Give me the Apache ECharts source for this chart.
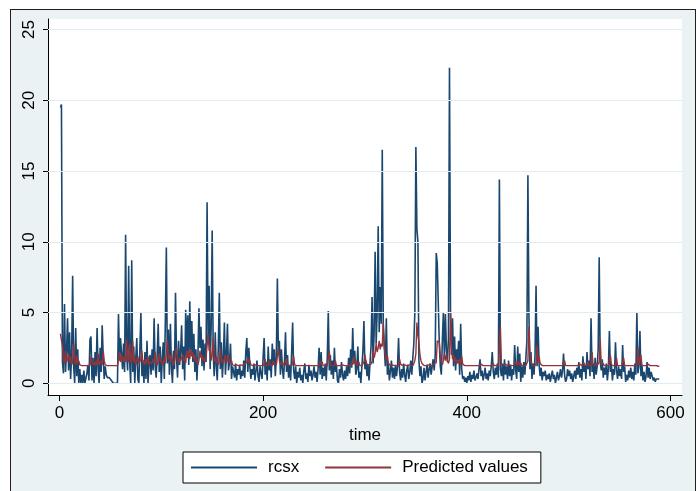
<!DOCTYPE html>
<html>
<head>
<meta charset="utf-8">
<script src="https://cdn.jsdelivr.net/npm/echarts@6/dist/echarts.min.js"></script>
<style>
html, body { margin: 0; padding: 0; background: #fff; }
#frame { position: absolute; left: 10px; top: 9px; width: 684px; height: 500px; background: #eaf2f3; border: 1px solid #1f1f1f; }
#chart { position: absolute; left: 0; top: 0; width: 696px; height: 491px; }
</style>
</head>
<body>
<div id="frame"></div>
<div id="chart"></div>
<script>
// rcsx, t = 1..589
const rcsx = [
  19.5,19.7,1.5,0.7,5.6,0.8,2.2,4.6,0.9,3.6,
  0.3,2.0,7.6,1.2,0.0,3.9,0.5,2.4,0.0,1.0,
  0.0,0.6,0.0,0.9,0.0,0.0,0.7,1.3,0.2,3.1,
  3.3,0.2,1.8,0.0,2.2,0.5,3.9,1.0,0.0,2.5,
  0.8,4.1,1.9,0.3,1.2,0.6,0.4,0.3,0.4,0.3,
  0.2,0.3,0.0,0.0,0.0,0.0,0.0,4.9,1.6,3.2,
  3.3,1.0,2.8,0.8,10.5,2.0,0.9,8.3,1.5,0.0,
  8.7,0.8,2.6,0.0,1.8,3.2,0.3,0.0,2.4,5.0,
  0.5,1.6,0.0,2.2,0.3,3.0,0.0,1.4,2.0,0.6,
  2.4,0.9,4.6,1.2,0.4,2.0,4.2,0.8,2.6,0.0,
  1.7,2.9,0.3,4.3,9.6,1.4,3.8,0.6,4.2,1.1,
  0.0,2.3,1.0,6.4,1.8,0.4,3.0,1.3,2.2,4.1,
  1.0,2.6,0.2,5.2,2.0,4.8,1.3,5.8,2.2,4.4,
  1.5,3.5,0.8,2.4,0.2,1.9,5.3,2.5,4.0,1.2,
  3.1,0.9,2.8,1.5,12.8,3.2,6.9,1.0,4.0,10.8,
  2.2,0.5,3.6,1.2,0.2,2.5,6.4,1.0,2.9,0.4,
  1.8,4.3,0.6,2.0,4.2,0.9,1.5,2.8,0.3,1.2,
  0.8,0.4,1.4,0.2,1.0,0.6,1.3,0.3,0.9,0.5,
  1.6,0.4,2.2,3.2,0.8,2.5,1.2,0.3,1.0,0.6,
  1.4,0.2,0.9,1.6,0.5,0.1,1.2,0.7,0.3,1.8,
  3.2,0.6,1.5,0.2,2.6,0.9,1.7,0.4,2.8,1.3,
  2.4,0.5,1.8,7.4,2.2,3.0,0.6,2.4,1.0,0.3,
  1.5,3.6,0.8,2.0,0.4,1.3,0.2,2.1,4.3,0.9,
  0.3,1.2,0.0,0.8,0.4,1.1,0.2,0.6,0.0,0.9,
  1.4,0.3,0.7,0.1,1.3,0.5,0.9,0.2,0.6,1.2,
  0.4,0.8,0.1,1.0,2.5,0.6,2.2,0.3,1.1,0.5,
  1.4,0.2,1.8,5.1,0.9,2.0,0.6,1.6,0.3,2.5,
  0.8,1.3,0.2,0.0,1.0,0.4,1.5,0.6,0.2,0.9,
  0.3,1.2,0.5,1.8,0.7,2.4,1.1,3.9,1.4,2.3,
  0.6,1.0,2.6,0.4,0.8,0.0,1.2,2.3,4.4,1.0,
  1.6,0.5,1.3,0.2,1.5,2.6,6.1,1.4,3.5,9.3,
  2.8,5.0,11.1,3.6,6.8,4.2,16.5,4.0,2.6,1.2,
  4.6,0.6,1.4,0.2,0.9,1.6,0.4,1.1,0.3,1.3,
  0.5,1.2,3.2,0.8,0.2,1.0,0.4,1.4,0.6,0.1,
  0.9,1.3,0.3,0.8,1.6,0.6,1.8,2.8,5.0,16.7,
  10.9,10.0,1.6,0.5,1.2,0.0,0.3,1.1,0.2,0.8,
  1.3,0.4,1.0,1.4,0.6,1.2,1.7,0.9,2.0,9.2,
  8.5,8.4,2.8,1.2,0.6,3.0,5.0,1.8,4.9,2.4,
  1.5,3.2,22.3,5.0,2.0,4.6,1.2,3.3,0.9,2.4,
  1.6,3.0,0.6,4.2,1.0,0.3,0.5,0.1,0.4,0.0,
  0.5,0.2,0.8,0.1,0.6,0.3,0.9,0.2,0.4,0.7,
  0.3,1.0,1.7,0.5,0.9,0.2,0.6,1.1,0.3,0.7,
  0.2,0.9,0.5,1.2,2.2,0.8,0.3,1.1,0.6,1.4,
  0.4,14.4,1.0,0.5,1.4,0.2,1.7,0.6,1.2,0.3,
  1.6,0.5,1.3,0.2,1.0,0.6,2.7,0.9,0.3,2.6,
  0.8,2.1,0.1,1.2,0.4,1.5,0.6,1.8,3.0,14.7,
  4.8,1.0,2.2,0.3,1.4,0.6,2.0,6.9,1.2,4.0,
  1.3,0.5,1.1,0.2,0.8,0.5,0.9,0.2,0.6,0.3,
  0.7,0.1,0.5,0.9,0.3,0.6,0.0,0.4,0.8,0.2,
  0.5,1.0,0.4,0.9,2.1,0.6,0.1,0.3,1.0,0.5,
  0.9,0.3,0.7,0.1,0.5,0.9,0.3,1.1,0.6,1.5,
  0.4,1.0,0.2,1.9,0.8,1.3,0.3,2.2,1.0,1.6,
  0.5,4.6,0.8,1.4,0.3,1.8,0.6,1.2,2.4,8.9,
  1.5,0.9,1.7,0.4,1.1,0.6,1.4,0.2,1.0,3.7,
  0.8,1.3,0.2,1.0,0.6,2.9,0.9,0.3,1.2,0.5,
  1.0,0.3,2.7,0.8,1.2,0.1,0.6,0.2,0.9,0.4,
  1.1,0.3,0.8,0.2,1.4,0.6,5.0,0.7,1.2,3.7,
  0.5,1.3,0.2,0.8,0.1,0.5,1.5,0.4,1.1,0.3,
  0.8,0.5,0.2,0.4,0.1,0.3,0.2,0.3,0.3
];

// Predicted values, t = 1..589
const predicted = [
  3.5,3.6,2.6,1.6,1.4,2.3,1.5,1.7,2.1,1.5,
  1.9,1.3,1.5,2.8,1.6,1.3,2.0,1.4,1.6,1.3,
  1.3,1.25,1.25,1.25,1.25,1.25,1.25,1.25,1.3,1.25,
  1.9,2.0,1.3,1.5,1.25,1.6,1.3,2.1,1.3,1.25,
  1.6,1.3,2.3,1.6,1.3,1.3,1.25,1.25,1.25,1.25,
  1.25,1.25,1.25,1.25,1.25,1.25,1.25,1.25,2.2,1.5,
  2.0,2.0,1.5,1.9,1.5,3.1,1.8,1.5,2.8,1.6,
  1.4,3.0,1.5,1.8,1.3,1.6,1.9,1.4,1.3,1.7,
  2.3,1.4,1.6,1.3,1.7,1.4,1.9,1.3,1.5,1.6,
  1.4,1.7,1.4,2.2,1.5,1.3,1.6,2.1,1.5,1.7,
  1.3,1.5,1.8,1.4,2.1,3.1,1.7,2.0,1.5,2.1,
  1.5,1.3,1.6,1.5,2.5,1.7,1.4,1.8,1.6,1.7,
  2.0,1.6,1.8,1.4,2.3,1.8,2.3,1.7,2.4,1.9,
  2.2,1.7,2.0,1.5,1.7,1.3,1.6,2.3,1.8,2.0,
  1.6,1.8,1.5,1.8,1.7,3.5,2.3,2.6,1.6,2.0,
  3.2,1.8,1.5,1.9,1.5,1.3,1.6,2.4,1.5,1.7,
  1.4,1.5,2.0,1.4,1.5,2.0,1.4,1.4,1.6,1.3,
  1.3,1.25,1.25,1.3,1.25,1.25,1.25,1.3,1.25,1.25,
  1.25,1.35,1.25,1.5,1.8,1.4,1.6,1.3,1.25,1.25,
  1.25,1.3,1.25,1.25,1.35,1.25,1.25,1.25,1.25,1.25,
  1.4,1.7,1.3,1.4,1.25,1.6,1.3,1.4,1.25,1.6,
  1.4,1.5,1.3,1.4,2.5,1.6,1.7,1.3,1.5,1.3,
  1.25,1.3,1.8,1.3,1.4,1.25,1.3,1.25,1.4,1.9,
  1.3,1.25,1.25,1.25,1.25,1.25,1.25,1.25,1.25,1.25,
  1.25,1.3,1.25,1.25,1.25,1.3,1.25,1.25,1.25,1.25,
  1.25,1.25,1.25,1.25,1.25,1.6,1.3,1.5,1.25,1.25,
  1.25,1.3,1.25,1.35,2.3,1.3,1.4,1.25,1.3,1.25,
  1.6,1.25,1.3,1.25,1.25,1.25,1.25,1.3,1.25,1.25,
  1.25,1.25,1.25,1.25,1.35,1.25,1.5,1.3,1.9,1.4,
  1.6,1.25,1.25,1.5,1.25,1.25,1.25,1.25,1.5,2.0,
  1.5,1.35,1.3,1.3,1.25,1.35,1.6,2.3,1.8,2.1,
  2.8,2.2,2.5,3.0,2.4,2.8,2.6,4.3,2.5,2.0,
  1.6,2.0,1.4,1.35,1.25,1.25,1.3,1.25,1.25,1.25,
  1.25,1.25,1.25,1.7,1.35,1.25,1.25,1.25,1.3,1.25,
  1.25,1.25,1.3,1.25,1.25,1.35,1.25,1.4,1.6,2.1,
  4.3,3.4,2.9,2.0,1.6,1.4,1.3,1.25,1.25,1.25,
  1.25,1.3,1.25,1.25,1.3,1.25,1.25,1.4,1.3,1.45,
  3.0,2.9,2.9,1.9,1.5,1.3,1.6,2.1,1.6,2.0,
  1.6,1.4,1.7,5.1,2.6,1.7,2.0,1.5,1.8,1.35,
  1.6,1.4,1.7,1.3,1.9,1.35,1.25,1.25,1.25,1.25,
  1.25,1.25,1.25,1.25,1.25,1.25,1.25,1.25,1.25,1.25,
  1.25,1.25,1.25,1.35,1.25,1.25,1.25,1.25,1.25,1.25,
  1.25,1.25,1.25,1.25,1.25,1.4,1.25,1.25,1.25,1.25,
  1.3,1.25,4.0,1.3,1.25,1.3,1.25,1.35,1.25,1.25,
  1.25,1.3,1.25,1.25,1.25,1.25,1.25,1.55,1.25,1.25,
  1.55,1.25,1.45,1.25,1.25,1.25,1.3,1.25,1.35,1.6,
  4.0,2.0,1.5,1.45,1.25,1.3,1.25,1.4,2.7,1.5,
  1.9,1.4,1.3,1.25,1.25,1.25,1.25,1.25,1.25,1.25,
  1.25,1.25,1.25,1.25,1.25,1.25,1.25,1.25,1.25,1.25,
  1.25,1.25,1.25,1.25,1.25,1.6,1.25,1.25,1.25,1.25,
  1.25,1.25,1.25,1.25,1.25,1.25,1.25,1.25,1.25,1.25,
  1.35,1.25,1.25,1.25,1.45,1.25,1.3,1.25,1.5,1.25,
  1.35,1.25,2.2,1.3,1.3,1.25,1.4,1.25,1.25,1.5,
  3.1,1.35,1.25,1.4,1.25,1.25,1.25,1.3,1.25,1.25,
  2.0,1.3,1.3,1.25,1.25,1.25,1.8,1.25,1.25,1.25,
  1.25,1.25,1.25,1.8,1.25,1.25,1.25,1.25,1.25,1.25,
  1.25,1.25,1.25,1.25,1.25,1.3,1.25,2.5,1.3,1.3,
  2.0,1.25,1.3,1.25,1.25,1.25,1.25,1.35,1.25,1.25,
  1.25,1.25,1.25,1.25,1.25,1.25,1.25,1.2,1.2
];

const xTicks = [0, 200, 400, 600];
const yTicks = [0, 5, 10, 15, 20, 25];

const FONT = 'Liberation Sans, Arial, sans-serif';
const toPoints = arr => arr.map((v, i) => [i + 1, v]);

const chart = echarts.init(document.getElementById('chart'));
chart.setOption({
    animation: false,
    backgroundColor: 'transparent',
    grid: {
        left: 48, top: 19, width: 634, height: 376,
        show: true, backgroundColor: '#fff', borderWidth: 0
    },
    xAxis: {
        type: 'value',
        min: -11.2,
        max: 611.3,
        axisLine: { show: true, onZero: false, lineStyle: { color: '#000', width: 1 } },
        axisTick: { show: true, customValues: xTicks, length: 6, lineStyle: { color: '#000' } },
        axisLabel: { customValues: xTicks, fontSize: 17, color: '#000', margin: 10, fontFamily: FONT },
        splitLine: { show: false },
        name: 'time',
        nameLocation: 'middle',
        nameGap: 29,
        nameTextStyle: { fontSize: 17, color: '#000', fontFamily: FONT }
    },
    yAxis: {
        type: 'value',
        min: -0.83,
        max: 25.75,
        axisLine: { show: true, onZero: false, lineStyle: { color: '#000', width: 1 } },
        axisTick: { show: true, customValues: yTicks, length: 5, lineStyle: { color: '#000' } },
        axisLabel: { customValues: yTicks, rotate: 90, fontSize: 17, color: '#000', margin: 10, fontFamily: FONT },
        splitLine: { show: false }
    },
    legend: {
        data: ['rcsx', 'Predicted values'],
        left: 183,
        top: 452,
        icon: 'rect',
        itemWidth: 66,
        itemHeight: 2,
        itemGap: 26,
        padding: [7, 13, 7, 8],
        backgroundColor: '#fff',
        borderColor: '#000',
        borderWidth: 1,
        borderRadius: 0,
        textStyle: { fontSize: 17, color: '#000', fontFamily: FONT, padding: [0, 0, 0, 6] }
    },
    series: [
        {
            // horizontal grid lines
            name: 'grid',
            type: 'line',
            data: [],
            z: 1,
            silent: true,
            markLine: {
                silent: true,
                symbol: ['none', 'none'],
                label: { show: false },
                lineStyle: { color: '#e2ecef', width: 1.2, type: 'solid' },
                data: yTicks.map(v => ({ yAxis: v }))
            }
        },
        {
            name: 'rcsx',
            type: 'line',
            data: toPoints(rcsx),
            z: 2,
            showSymbol: false,
            symbol: 'none',
            color: '#1a476f',
            lineStyle: { color: '#1a476f', width: 1.6 }
        },
        {
            name: 'Predicted values',
            type: 'line',
            data: toPoints(predicted),
            z: 3,
            showSymbol: false,
            symbol: 'none',
            color: '#90353b',
            lineStyle: { color: '#90353b', width: 1.4 }
        }
    ]
});
</script>
</body>
</html>
